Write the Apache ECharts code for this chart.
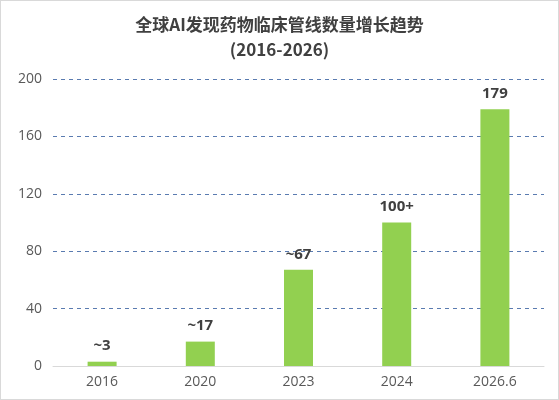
<!DOCTYPE html>
<html>
<head>
<meta http-equiv="Content-Type" content="text/html; charset=utf8">
<title>AI drug pipeline</title>
<script src="https://cdn.jsdelivr.net/npm/echarts@6/dist/echarts.min.js"></script>
<style type="text/css">
html,body{margin:0;padding:0;background:#fff;}
#main{
width:559px;
height:400px;
box-sizing:border-box;
border:1px solid #d9d9d9;
}
</style>
</head>
<body>
<div id="main"></div>
<script>
var categories = ['2016', '2020', '2023', '2024', '2026.6'];
var pipelineCounts = [3, 17, 67, 100, 179];
var barLabels = ['~3', '~17', '~67', '100+', '179'];

var chart = echarts.init(document.getElementById('main'));

var option = {
	animation:false,
	title:{
		text:'全球AI发现药物临床管线数量增长趋势\n(2016-2026)',
		left:'center',
		top:6,
		textStyle:{
			color:'#404040',
			fontWeight:'bold',
			fontFamily:'Noto Sans CJK SC',
			fontSize:17,
			lineHeight:25
		}
	},
	grid:{
		left:52,
		right:14,
		top:78,
		bottom:33
	},
	xAxis:{
		type:'category',
		data:categories,
		axisLine:{lineStyle:{color:'#d9d9d9'}},
		axisTick:{show:false},
		axisLabel:{
			color:'#595959',
			fontSize:14,
			fontFamily:'Open Sans',
			margin:9
		}
	},
	yAxis:{
		type:'value',
		min:0,
		max:200,
		interval:40,
		axisLine:{show:false},
		axisTick:{show:false},
		axisLabel:{
			color:'#595959',
			fontSize:14,
			fontFamily:'Open Sans',
			margin:11
		},
		splitLine:{
			lineStyle:{color:'#5a7bb0', type:[4,4], width:1}
		}
	},
	series:[{
		type:'bar',
		data:pipelineCounts,
		barWidth:29,
		itemStyle:{color:'#92d050'},
		label:{
			show:true,
			position:'top',
			distance:8,
			color:'#404040',
			fontWeight:'bold',
			fontSize:15,
			fontFamily:'Open Sans',
			formatter:function(p){ return barLabels[p.dataIndex]; }
		}
	}]
};

chart.setOption(option);
</script>
</body>
</html>
